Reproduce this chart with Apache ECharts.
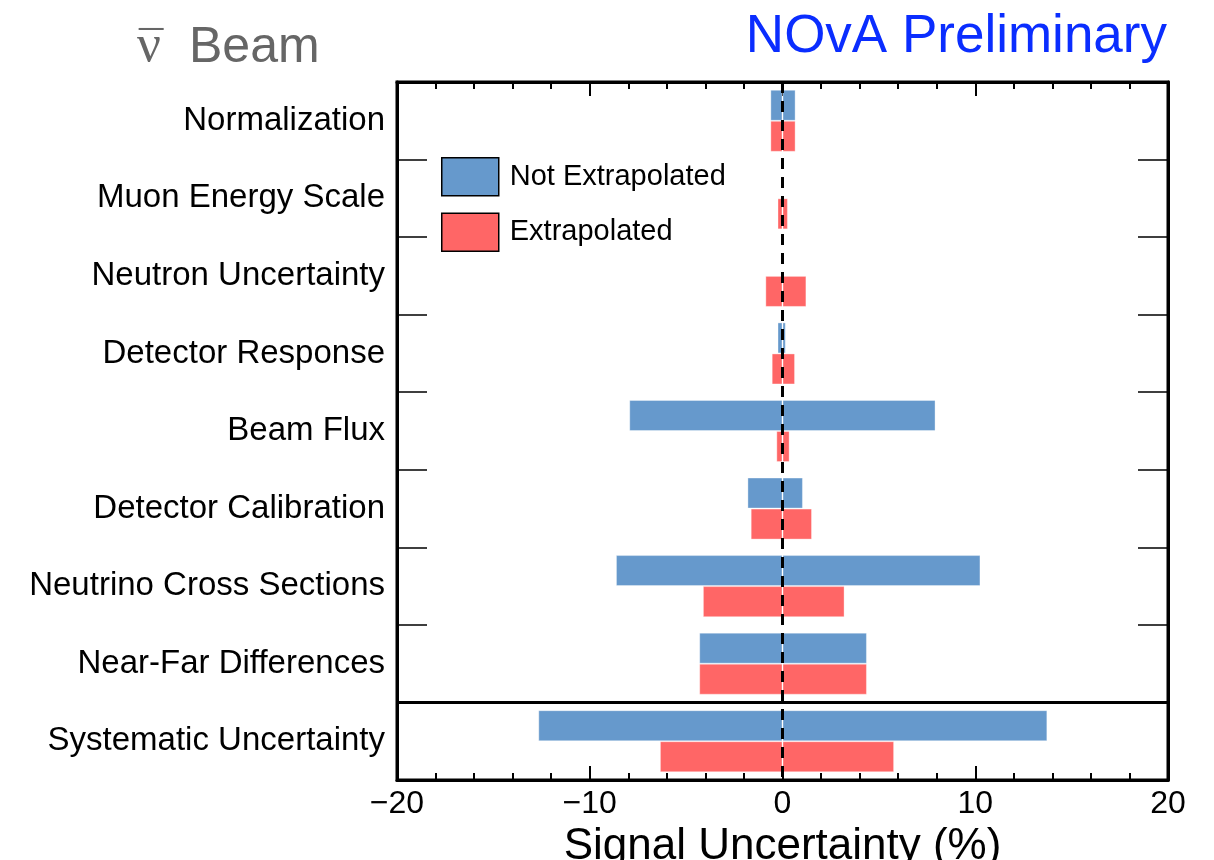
<!DOCTYPE html>
<html>
<head>
<meta charset="utf-8">
<script src="https://cdn.jsdelivr.net/npm/echarts@6/dist/echarts.min.js"></script>
<style>
html,body{margin:0;padding:0;background:#fff;}
#chart{width:1214px;height:860px;}
</style>
</head>
<body>
<div id="chart"></div>
<script>
const categories = ['Normalization','Muon Energy Scale','Neutron Uncertainty','Detector Response','Beam Flux','Detector Calibration','Neutrino Cross Sections','Near-Far Differences','Systematic Uncertainty'];
const notExtrapLow  = [-0.63, -0.04, -0.04, -0.26, -7.95, -1.82, -8.64, -4.32, -12.67];
const notExtrapHigh = [ 0.68,  0.04,  0.04,  0.17,  7.94,  1.06, 10.27,  4.38,  13.74];
const extrapLow     = [-0.63, -0.26, -0.89, -0.56, -0.32, -1.65, -4.13, -4.32,  -6.36];
const extrapHigh    = [ 0.68,  0.28,  1.24,  0.65,  0.37,  1.53,  3.22,  4.38,   5.79];
const xTicks = [-20, -10, 0, 10, 20];

const FONT = 'Liberation Sans, Arial, Helvetica, sans-serif';
const SERIF = 'Liberation Serif, DejaVu Serif, serif';
const BLUE = '#6699cc';
const RED = '#ff6666';

const chart = echarts.init(document.getElementById('chart'), null, {renderer: 'canvas'});

const xBase = {
  type: 'value', min: xTicks[0], max: xTicks[xTicks.length - 1], interval: 10,
  axisLine: {show: true, onZero: false, lineStyle: {color: '#000', width: 3}},
  axisTick: {show: true, inside: true, length: 14, lineStyle: {color: '#000', width: 2}},
  minorTick: {show: true, splitNumber: 5, length: 7, lineStyle: {color: '#000', width: 2}},
  splitLine: {show: false},
  minorSplitLine: {show: false}
};

const yBase = {
  type: 'category', data: categories, inverse: true,
  axisLine: {show: true, onZero: false, lineStyle: {color: '#000', width: 3}},
  axisTick: {show: true, inside: true, length: 30, alignWithLabel: false, lineStyle: {color: '#000', width: 1.5}},
  splitLine: {show: false}
};

const option = {
  backgroundColor: '#fff',
  animation: false,
  textStyle: {fontFamily: FONT},
  title: [
    {
      text: 'ν', left: 137, top: 21, padding: 0,
      textStyle: {color: '#666666', fontSize: 53, fontFamily: SERIF, fontWeight: 'normal'}
    },
    {
      text: '\u00AF', left: 139, top: 28, padding: 0,
      textStyle: {color: '#666666', fontSize: 44, fontFamily: FONT, fontWeight: 'normal'}
    },
    {
      text: 'Beam', left: 189, top: 23, padding: 0,
      textStyle: {color: '#666666', fontSize: 50, fontFamily: FONT, fontWeight: 'normal'}
    },
    {
      text: 'NOvA Preliminary',
      right: 47, top: 11, padding: 0,
      textStyle: {color: '#0a2dff', fontSize: 53, fontFamily: FONT, fontWeight: 'normal'}
    }
  ],
  legend: {
    orient: 'vertical', left: 441, top: 157, padding: 0,
    itemWidth: 57, itemHeight: 38, itemGap: 16,
    data: [
      {name: 'Not Extrapolated', icon: 'rect', itemStyle: {color: BLUE, borderColor: '#000', borderWidth: 1.5}},
      {name: 'Extrapolated', icon: 'rect', itemStyle: {color: RED, borderColor: '#000', borderWidth: 1.5}}
    ],
    textStyle: {fontSize: 29, color: '#000', fontFamily: FONT, padding: [0, 0, 0, 6]},
    selectedMode: false
  },
  grid: {left: 397, right: 46, top: 82, bottom: 80, show: true, borderColor: '#000', borderWidth: 3,
         backgroundColor: 'transparent', containLabel: false, outerBoundsMode: 'none'},
  xAxis: [
    Object.assign({}, xBase, {
      position: 'bottom',
      axisLabel: {show: true, fontSize: 32, color: '#000', margin: 8, fontFamily: FONT,
        formatter: v => (v < 0 ? '\u2212' + Math.abs(v) : String(v))},
      name: 'Signal Uncertainty (%)', nameLocation: 'middle', nameGap: 30,
      nameTextStyle: {fontSize: 44, color: '#000', fontFamily: FONT}
    }),
    Object.assign({}, xBase, {position: 'top', axisLabel: {show: false}})
  ],
  yAxis: [
    Object.assign({}, yBase, {
      position: 'left',
      axisLabel: {show: true, fontSize: 33, color: '#000', margin: 12, fontFamily: FONT}
    }),
    Object.assign({}, yBase, {position: 'right', axisLabel: {show: false}}),
    {type: 'value', min: 0, max: categories.length, inverse: true, show: false}
  ],
  series: [
    {
      name: 'Not Extrapolated', type: 'bar', stack: 'ne', data: notExtrapLow,
      xAxisIndex: 0, yAxisIndex: 0,
      itemStyle: {color: BLUE, borderColor: 'rgba(255,255,255,0.35)', borderWidth: 1},
      barCategoryGap: '20%', barGap: '0%'
    },
    {
      name: 'Not Extrapolated', type: 'bar', stack: 'ne', data: notExtrapHigh,
      xAxisIndex: 0, yAxisIndex: 0,
      itemStyle: {color: BLUE, borderColor: 'rgba(255,255,255,0.35)', borderWidth: 1}
    },
    {
      name: 'Extrapolated', type: 'bar', stack: 'ex', data: extrapLow,
      xAxisIndex: 0, yAxisIndex: 0,
      itemStyle: {color: RED, borderColor: 'rgba(255,255,255,0.35)', borderWidth: 1}
    },
    {
      name: 'Extrapolated', type: 'bar', stack: 'ex', data: extrapHigh,
      xAxisIndex: 0, yAxisIndex: 0,
      itemStyle: {color: RED, borderColor: 'rgba(255,255,255,0.35)', borderWidth: 1},
      markLine: {
        silent: true, symbol: ['none', 'none'], label: {show: false},
        lineStyle: {color: '#000', width: 3, type: [11, 8]},
        data: [{xAxis: 0}], z: 10
      }
    },
    {
      name: 'separator', type: 'line', data: [], xAxisIndex: 0, yAxisIndex: 2,
      silent: true, legendHoverLink: false,
      markLine: {
        silent: true, symbol: ['none', 'none'], label: {show: false},
        lineStyle: {color: '#000', width: 3, type: 'solid'},
        data: [{yAxis: categories.length - 1}]
      }
    }
  ]
};
chart.setOption(option);
</script>
</body>
</html>
